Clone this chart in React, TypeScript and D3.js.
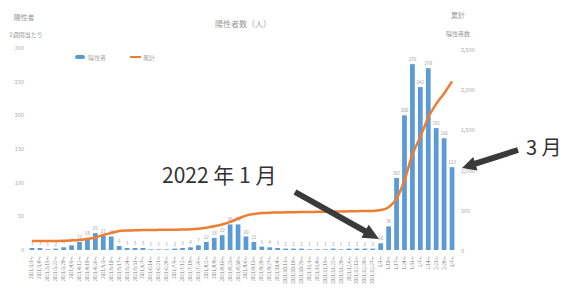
import React, { useEffect, useRef } from 'react';
import * as d3 from 'd3';

// week starting dates (Mon)
const weeks = [
  '2021/3/1', '2021/3/8', '2021/3/15', '2021/3/22', '2021/3/29', '2021/4/5', '2021/4/12', '2021/4/19', '2021/4/26',
  '2021/5/3', '2021/5/10', '2021/5/17', '2021/5/24', '2021/5/31', '2021/6/7', '2021/6/14', '2021/6/21', '2021/6/28',
  '2021/7/5', '2021/7/12', '2021/7/19', '2021/7/26', '2021/8/2', '2021/8/9', '2021/8/16', '2021/8/23', '2021/8/30',
  '2021/9/6', '2021/9/13', '2021/9/20', '2021/9/27', '2021/10/4', '2021/10/11', '2021/10/18', '2021/10/25',
  '2021/11/1', '2021/11/8', '2021/11/15', '2021/11/22', '2021/11/29', '2021/12/6', '2021/12/13', '2021/12/20',
  '2021/12/27', '1/3', '1/10', '1/17', '1/24', '1/31', '2/7', '2/14', '2/21', '2/28', '3/7',
];

// weekly new positives (left axis)
const weekly = [
  3, 3, 1, 2, 4, 7, 12, 18, 25, 21, 20, 6, 3,
  3, 3, 1, 1, 1, 2, 3,
  4, 7, 12, 18, 22, 38, 38, 20, 12, 5, 4,
  3, 2, 2, 2, 1, 1, 1, 2, 1, 2, 2, 2, 2,
  10, 35, 107, 200, 276, 242, 270, 181, 166, 123,
];

// cumulative (right axis)
const cumulative = [
  124, 124, 124, 125, 126, 131, 137, 149, 168, 199, 224, 249, 255,
  257, 260, 262, 263, 264, 265, 267,
  271, 278, 290, 308, 330, 362, 402, 440, 460, 472, 477,
  479, 481, 483, 485, 486, 487, 488, 490, 492, 493, 495, 497, 499,
  509, 544, 651, 880, 1200, 1420, 1660, 1830, 1960, 2110,
];

const leftTicks = [0, 50, 100, 150, 200, 250, 300];
const rightTicks = [0, 500, 1000, 1500, 2000, 2500];

const FONT = "'Noto Sans CJK JP', 'Noto Sans', sans-serif";

function arrowPoints(x1, y1, x2, y2, body, headLen, headW) {
  const a = Math.atan2(y2 - y1, x2 - x1);
  const len = Math.hypot(x2 - x1, y2 - y1);
  const pts = [
    [0, -body / 2], [len - headLen, -body / 2], [len - headLen, -headW / 2], [len, 0],
    [len - headLen, headW / 2], [len - headLen, body / 2], [0, body / 2],
  ];
  return pts
    .map(([px, py]) => [x1 + px * Math.cos(a) - py * Math.sin(a), y1 + px * Math.sin(a) + py * Math.cos(a)])
    .map((p) => p.join(','))
    .join(' ');
}

export default function App() {
  const ref = useRef(null);

  useEffect(() => {
    const svg = d3.select(ref.current);
    const idx = weekly.map((_, i) => i);

    const x = d3.scaleBand().domain(idx).range([28, 456]).paddingInner(0.4).paddingOuter(0.2);
    const yL = d3.scaleLinear().domain([0, 300]).range([250, 48]);
    const yR = d3.scaleLinear().domain([0, 2500]).range([251, 50]);
    const cx = (i) => x(i) + x.bandwidth() / 2;

    // header texts
    const txt = (tx, ty, s, size, anchor = 'start', fill = '#999') =>
      svg.append('text').attr('x', tx).attr('y', ty).attr('font-size', size).attr('fill', fill)
        .attr('font-family', FONT).attr('text-anchor', anchor).text(s);

    txt(24, 20, '陽性者', 7, 'middle');
    txt(26, 37, '1週間当たり', 6, 'middle');
    txt(243, 27, '陽性者数（人）', 8, 'middle');
    txt(458, 18, '累計', 7, 'middle');
    txt(458, 36, '陽性者数', 6, 'middle');

    // legend
    svg.append('rect').attr('x', 75).attr('y', 55).attr('width', 10).attr('height', 4).attr('rx', 2).attr('fill', '#5b9bd5');
    txt(88, 59.5, '陽性者', 6, 'start', '#aaa');
    svg.append('line').attr('x1', 130).attr('x2', 141).attr('y1', 57).attr('y2', 57)
      .attr('stroke', '#ed7d31').attr('stroke-width', 2);
    txt(143, 59.5, '累計', 6, 'start', '#aaa');

    // axes labels
    svg.append('g').selectAll('text').data(leftTicks).join('text')
      .attr('x', 24).attr('y', (d) => yL(d) + 2).attr('text-anchor', 'end')
      .attr('font-size', 5.5).attr('fill', '#aaa').attr('font-family', FONT)
      .text((d) => d);
    svg.append('g').selectAll('text').data(rightTicks).join('text')
      .attr('x', 461).attr('y', (d) => yR(d) + 2).attr('text-anchor', 'start')
      .attr('font-size', 5.5).attr('fill', '#aaa').attr('font-family', FONT)
      .text((d) => d3.format(',')(d));

    // bars
    svg.append('g').selectAll('rect').data(weekly).join('rect')
      .attr('x', (d, i) => x(i)).attr('width', x.bandwidth())
      .attr('y', (d) => yL(d)).attr('height', (d) => yL(0) - yL(d))
      .attr('fill', '#5b9bd5');

    // bar labels
    svg.append('g').selectAll('text').data(weekly).join('text')
      .attr('x', (d, i) => cx(i)).attr('y', (d) => yL(d) - 3).attr('text-anchor', 'middle')
      .attr('font-size', 4.5).attr('fill', '#999').attr('font-family', FONT)
      .text((d) => d);

    // cumulative line
    const line = d3.line().x((d, i) => cx(i)).y((d) => yR(d)).curve(d3.curveMonotoneX);
    svg.append('path').datum(cumulative).attr('d', line)
      .attr('fill', 'none').attr('stroke', '#ed7d31').attr('stroke-width', 2.5);

    // x labels (vertical)
    svg.append('g').selectAll('text').data(weeks).join('text')
      .attr('transform', (d, i) => `translate(${cx(i) + 1.5},256) rotate(-90)`)
      .attr('text-anchor', 'end').attr('font-size', 4.5).attr('fill', '#777').attr('font-family', FONT)
      .text((d) => `${d}～`);

    // annotations
    txt(162, 183, '2022 年 1 月', 21, 'start', '#333');
    txt(526, 155, '3 月', 20, 'start', '#333');
    svg.append('polygon').attr('points', arrowPoints(295, 192, 379, 239, 6, 16, 15)).attr('fill', '#3a3a3a');
    svg.append('polygon').attr('points', arrowPoints(518, 150, 462, 168, 6, 14, 14)).attr('fill', '#3a3a3a');

    return () => {
      svg.selectAll('*').remove();
    };
  });

  return (
    <div>
      <style>{'body{margin:0}'}</style>
      <svg ref={ref} width={569} height={304} style={{ display: 'block', background: '#fff' }} />
    </div>
  );
}
